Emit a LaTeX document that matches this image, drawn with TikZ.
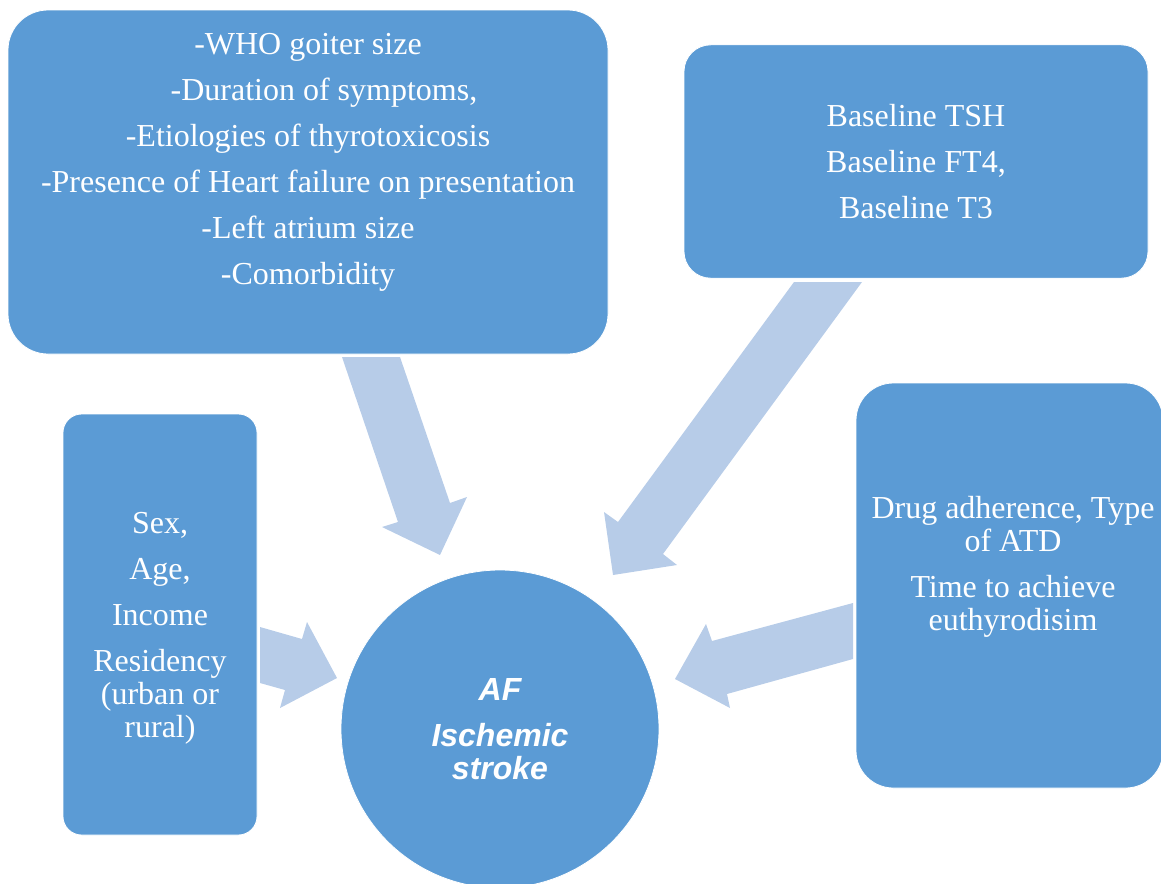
\documentclass[tikz,border=0pt]{standalone}
\usepackage{fontspec}
\setmainfont{Liberation Serif}
\newfontfamily\afsans{Liberation Sans}
\definecolor{boxblue}{HTML}{5B9BD5}
\definecolor{arrowblue}{HTML}{B7CCE8}
\begin{document}
\begin{tikzpicture}[x=.75pt,y=-.75pt,
    box/.style={rectangle,fill=boxblue,draw=white,line width=.6pt},
    txt/.style={text=white,align=center,font=\fontsize{24}{24.75}\selectfont},
    blk/.style={fill=arrowblue}]
  \useasboundingbox (0,0) rectangle (1161,883);
  % block arrows
  \fill[blk] (342,357)--(400,357)--(450,503)--(467,497)--(440,555)--(382,527)--(398,522)--cycle;
  \fill[blk] (794,282)--(862,282)--(663,554)--(677,565)--(613,575)--(604,512)--(618,522)--cycle;
  \fill[blk] (260,627)--(302,639)--(307,622)--(337,678)--(280,708)--(285,690)--(260,683)--cycle;
  \fill[blk] (853,603)--(712,641)--(706,624)--(675,679)--(730,708)--(727,694)--(853,659)--cycle;
  % boxes
  \node[box,rounded corners=30pt,minimum width=450pt,minimum height=258pt] (who) at (308,182) {};
  \node[box,rounded corners=20pt,minimum width=348pt,minimum height=175pt] (base) at (916,161.5) {};
  \node[box,rounded corners=14pt,minimum width=145.5pt,minimum height=315.75pt] (demo) at (160,624.5) {};
  \node[box,rounded corners=28pt,minimum width=230.25pt,minimum height=303.75pt] (drug) at (1009.5,585.5) {};
  \node[txt] (whotxt) at (308,162) {-WHO goiter size\\[9.75pt]
    \hspace*{24pt}-Duration of symptoms,\\[9.75pt]
    -Etiologies of thyrotoxicosis\\[9.75pt]
    -Presence of Heart failure on presentation\\[9.75pt]
    -Left atrium size\\[9.75pt]
    -Comorbidity};
  \node[txt] (basetxt) at (916,162) {Baseline TSH\\[9.75pt]Baseline FT4,\\[9.75pt]Baseline T3};
  \node[txt] (demotxt) at (160,628) {Sex,\\[9.75pt]Age,\\[9.75pt]Income\\[9.75pt]Residency\\(urban or\\rural)};
  \node[txt] (drugtxt) at (1013,567) {Drug adherence, Type\\of ATD\\[9.75pt]Time to achieve\\euthyrodisim};
  % outcome
  \node[circle,fill=boxblue,draw=white,line width=.6pt,minimum size=238.5pt,
    txt,font=\afsans\bfseries\itshape\fontsize{24}{24.75}\selectfont] (af) at (500,729)
    {AF\\[9.75pt]Ischemic\\stroke};
\end{tikzpicture}
\end{document}
